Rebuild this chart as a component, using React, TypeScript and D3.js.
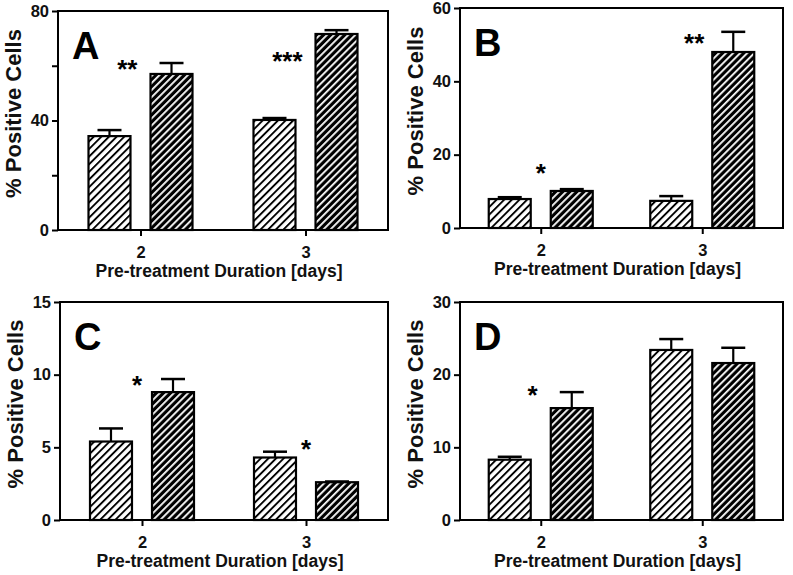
import React, { useEffect, useRef } from 'react';
import * as d3 from 'd3';

// Data
const categories = ['2', '3'];
const panelLetters = ['A', 'B', 'C', 'D'];
const yMax = [80, 60, 15, 30];
const yTickValues = [[0, 20, 40, 60, 80], [0, 20, 40, 60], [0, 5, 10, 15], [0, 10, 20, 30]];
const yTickLabels = [[0, 40, 80], [0, 20, 40, 60], [0, 5, 10, 15], [0, 10, 20, 30]];

const lightMeans = [[34.3, 40.2], [7.9, 7.4], [5.4, 4.3], [8.3, 23.4]];
const lightErr = [[2.2, 0.7], [0.5, 1.3], [0.9, 0.4], [0.4, 1.5]];
const darkMeans = [[57, 71.6], [10.1, 48], [8.8, 2.6], [15.4, 21.6]];
const darkErr = [[4, 1.4], [0.5, 5.5], [0.9, 0.05], [2.2, 2.1]];

// significance marks: panel, position on the day axis, height in % cells
const annotPanel = [0, 0, 1, 1, 2, 2, 3];
const annotDay = [1.92, 2.89, 2.0, 2.95, 1.97, 3.0, 1.95];
const annotValue = [61, 63.9, 16.6, 52.1, 9.74, 5.3, 18.0];
const annotText = ['**', '***', '*', '**', '*', '*', '*'];

const yTitle = '% Positive Cells';
const xTitle = 'Pre-treatment Duration [days]';

const FONT = '"Liberation Sans", Arial, sans-serif';

const App = () => {
  const ref = useRef<SVGSVGElement>(null);

  useEffect(() => {
    const width = 793;
    const height = 575;
    const svg = d3.select(ref.current);
    svg.selectAll('*').remove();
    svg.attr('width', width).attr('height', height);

    // hatch patterns
    const defs = svg.append('defs');
    const light = defs.append('pattern')
      .attr('id', 'hatchLight')
      .attr('patternUnits', 'userSpaceOnUse')
      .attr('width', 5.4).attr('height', 10)
      .attr('patternTransform', 'rotate(45)');
    light.append('rect').attr('width', 5.4).attr('height', 10).attr('fill', '#fff');
    light.append('rect').attr('width', 1.9).attr('height', 10).attr('fill', '#000');

    const dark = defs.append('pattern')
      .attr('id', 'hatchDark')
      .attr('patternUnits', 'userSpaceOnUse')
      .attr('width', 5).attr('height', 10)
      .attr('patternTransform', 'rotate(45)');
    dark.append('rect').attr('width', 5).attr('height', 10).attr('fill', '#000');
    dark.append('rect').attr('width', 1.8).attr('height', 10).attr('fill', '#fff');

    // panel frames
    const frames = [
      { left: 58, right: 388, top: 11, bottom: 230 },
      { left: 460, right: 783, top: 8, bottom: 228 },
      { left: 60, right: 388, top: 302, bottom: 520 },
      { left: 460, right: 783, top: 302, bottom: 520 },
    ];

    frames.forEach((f, i) => {
      const g = svg.append('g');

      const y = d3.scaleLinear().domain([0, yMax[i]]).range([f.bottom, f.top]);
      const x0 = d3.scalePoint().domain(categories).range([f.left, f.right]).padding(0.5);
      const xs = d3.scaleBand().domain(['light', 'dark']).range([-52, 52]).paddingInner(0.323);
      const xDay = d3.scaleLinear().domain([2, 3]).range([x0('2')!, x0('3')!]);

      // y axis
      const yAxis = g.append('g')
        .attr('transform', `translate(${f.left},0)`)
        .call(d3.axisLeft(y)
          .tickValues(yTickValues[i])
          .tickSize(6)
          .tickSizeOuter(0)
          .tickPadding(3)
          .tickFormat(d => (yTickLabels[i].includes(+d) ? String(d) : '')));
      yAxis.select('.domain').remove();
      yAxis.selectAll('line').attr('stroke-width', 2);
      yAxis.selectAll('text')
        .style('font-family', FONT).style('font-weight', 'bold').style('font-size', '16.5px')
        .attr('fill', '#111');

      // x axis
      const xAxis = g.append('g')
        .attr('transform', `translate(0,${f.bottom})`)
        .call(d3.axisBottom(x0).tickSize(6).tickSizeOuter(0).tickPadding(10.5));
      xAxis.select('.domain').remove();
      xAxis.selectAll('line').attr('stroke-width', 2);
      xAxis.selectAll('text')
        .style('font-family', FONT).style('font-weight', 'bold').style('font-size', '16.5px')
        .attr('fill', '#111');

      // bars
      const rows = categories.map((c, j) => [
        { c, key: 'light', v: lightMeans[i][j], e: lightErr[i][j] },
        { c, key: 'dark', v: darkMeans[i][j], e: darkErr[i][j] },
      ]).flat();

      const bw = xs.bandwidth();
      const bar = g.selectAll('g.bar').data(rows).enter().append('g').attr('class', 'bar');

      // error bars (upper only)
      bar.append('line')
        .attr('x1', d => x0(d.c)! + xs(d.key)! + bw / 2)
        .attr('x2', d => x0(d.c)! + xs(d.key)! + bw / 2)
        .attr('y1', d => y(d.v))
        .attr('y2', d => y(d.v + d.e))
        .attr('stroke', '#000').attr('stroke-width', 2.2);
      bar.append('line')
        .attr('x1', d => x0(d.c)! + xs(d.key)! + bw / 2 - 12)
        .attr('x2', d => x0(d.c)! + xs(d.key)! + bw / 2 + 12)
        .attr('y1', d => y(d.v + d.e))
        .attr('y2', d => y(d.v + d.e))
        .attr('stroke', '#000').attr('stroke-width', 2.5);

      bar.append('rect')
        .attr('x', d => x0(d.c)! + xs(d.key)!)
        .attr('y', d => y(d.v))
        .attr('width', bw)
        .attr('height', d => y(0) - y(d.v))
        .attr('fill', d => (d.key === 'light' ? 'url(#hatchLight)' : 'url(#hatchDark)'))
        .attr('stroke', '#000').attr('stroke-width', 2.2);

      // frame
      g.append('rect')
        .attr('x', f.left).attr('y', f.top)
        .attr('width', f.right - f.left).attr('height', f.bottom - f.top)
        .attr('fill', 'none').attr('stroke', '#000').attr('stroke-width', 2);

      // panel letter
      g.append('text')
        .attr('x', f.left + 14).attr('y', f.top + 48)
        .style('font-family', FONT).style('font-weight', 'bold').style('font-size', '38px')
        .text(panelLetters[i]);

      // significance marks
      annotPanel.forEach((p, k) => {
        if (p !== i) return;
        g.append('text')
          .attr('x', xDay(annotDay[k])).attr('y', y(annotValue[k]))
          .attr('dy', '0.58em')
          .attr('text-anchor', 'middle')
          .style('font-family', FONT).style('font-weight', 'bold').style('font-size', '26px')
          .text(annotText[k]);
      });

      // axis titles
      g.append('text')
        .attr('transform', `translate(${f.left - 37},${(f.top + f.bottom) / 2 - 7}) rotate(-90)`)
        .attr('text-anchor', 'middle')
        .style('font-family', FONT).style('font-weight', 'bold').style('font-size', '22px')
        .attr('fill', '#111')
        .text(yTitle);
      g.append('text')
        .attr('x', (f.left + f.right) / 2 - 4).attr('y', f.bottom + 47)
        .attr('text-anchor', 'middle')
        .style('font-family', FONT).style('font-weight', 'bold').style('font-size', '17.5px')
        .attr('fill', '#111')
        .text(xTitle);
    });
  }, []);

  return (
    <svg ref={ref} style={{ position: 'absolute', left: 0, top: 0, background: '#fff' }}></svg>
  );
};

export default App;
